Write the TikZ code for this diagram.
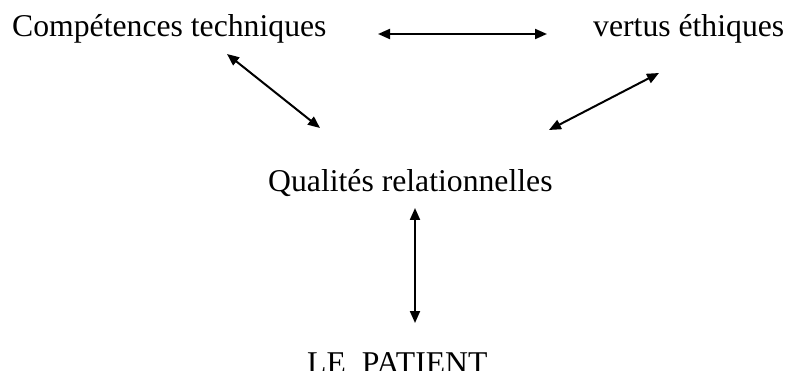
\documentclass[tikz,border=0pt]{standalone}
\usepackage{fontspec}
\setmainfont{Liberation Serif}
\usetikzlibrary{arrows.meta}
\begin{document}
\begin{tikzpicture}[x=1pt,y=-1pt,
  lbl/.style={inner sep=0pt,anchor=base west,font=\fontsize{31.7}{36}\selectfont},
  dbl/.style={line width=2pt,{Triangle[length=12pt,width=10pt]}-{Triangle[length=12pt,width=10pt]}}]
\useasboundingbox (0,0) rectangle (786,371);
\node[lbl] (comp) at (12,37) {Compétences techniques};
\node[lbl] (vert) at (593,37) {vertus éthiques};
\node[lbl] (qual) at (268,192) {Qualités relationnelles};
\node[lbl] (pat) at (307,373) {LE\ \ PATIENT};
\coordinate (h1) at (378,34);
\coordinate (h2) at (547,34);
\coordinate (l1) at (227,54);
\coordinate (l2) at (320,128);
\coordinate (r1) at (659,73);
\coordinate (r2) at (549,130);
\coordinate (v1) at (415,208);
\coordinate (v2) at (415,323);
\draw[dbl] (h1) -- (h2);
\draw[dbl] (l1) -- (l2);
\draw[dbl] (r1) -- (r2);
\draw[dbl] (v1) -- (v2);
\end{tikzpicture}
\end{document}
